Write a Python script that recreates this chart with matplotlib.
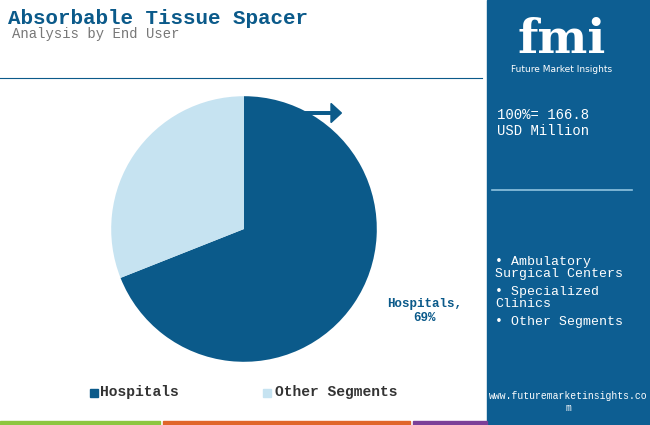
import matplotlib.pyplot as plt
from matplotlib.patches import Rectangle, FancyArrow

# data
segments = ["Hospitals", "Other Segments"]
shares = [69, 31]
colors = ["#0b5a8a", "#c6e3f1"]
side_bullets = ["• Ambulatory\nSurgical Centers", "• Specialized\nClinics", "• Other Segments"]
total_label = "100%= 166.8\nUSD Million"

MONO = "Liberation Mono"
DARK = "#0b5a8a"
PANEL = "#0d5e92"

fig = plt.figure(figsize=(6.5, 4.25), dpi=100)
W, H = 650, 425

def fx(x):
    return x / W

def fy(y):
    return 1 - y / H

# titles
fig.text(fx(8), fy(18), "Absorbable Tissue Spacer", fontsize=15, fontweight="bold",
         color=DARK, family=MONO, va="center")
fig.text(fx(12), fy(34), "Analysis by End User", fontsize=10, color="#777777",
         family=MONO, va="center")
fig.add_artist(plt.Line2D([0, fx(482)], [fy(78), fy(78)], color=DARK, lw=0.8))

# pie
S = 166
ax = fig.add_axes([fx(244 - S), fy(229 + S), fx(2 * S), 2 * S / H])
ax.pie(shares, colors=colors, startangle=90, counterclock=False,
       wedgeprops=dict(linewidth=0))
ax.set_aspect("equal")
ax.text(1.36, -0.62, f"{segments[0]},\n{shares[0]}%", ha="center", va="center",
        fontsize=9, fontweight="bold", color=DARK, family=MONO)

fig.add_artist(FancyArrow(fx(305), fy(113), fx(26), 0, width=0.006, head_width=0.045,
                          head_length=0.016, color=DARK, length_includes_head=False,
                          transform=fig.transFigure))

# legend
fig.add_artist(Rectangle((fx(90), fy(397)), fx(8), 8 / H, color=colors[0]))
fig.text(fx(100), fy(392), segments[0], fontsize=10.5, fontweight="bold", color="#333333",
         family=MONO, va="center")
fig.add_artist(Rectangle((fx(263), fy(397)), fx(8), 8 / H, color=colors[1]))
fig.text(fx(275), fy(392), segments[1], fontsize=10.5, fontweight="bold", color="#333333",
         family=MONO, va="center")

# right panel
fig.add_artist(Rectangle((fx(487), 0), fx(163), fy(0), color=PANEL, zorder=0))
fig.text(fx(562), fy(40), "fmi", fontsize=34, fontweight="bold", color="white",
         family="DejaVu Serif", ha="center", va="center")
fig.text(fx(562), fy(70), "Future Market Insights", fontsize=6.5, color="white",
         ha="center", va="center")
fig.text(fx(497), fy(123), total_label, fontsize=10, color="white", family=MONO,
         va="center", linespacing=1.1)
fig.add_artist(plt.Line2D([fx(492), fx(632)], [fy(190), fy(190)], color="#8fc3e0", lw=1.2))
ys = [268, 298, 322]
for y, b in zip(ys, side_bullets):
    fig.text(fx(495), fy(y), b, fontsize=9.5, color="white", family=MONO, va="center",
             linespacing=1.1)
fig.text(fx(568), fy(402), "www.futuremarketinsights.co\nm", fontsize=7, color="white",
         family=MONO, ha="center", va="center")

# bottom strip
for x0, x1, c in [(0, 160, "#8dc63f"), (163, 410, "#e0662a"), (413, 487, "#7b3f98")]:
    fig.add_artist(Rectangle((fx(x0), 0), fx(x1 - x0), 4 / H, color=c))

fig.savefig("out.png", dpi=100)
